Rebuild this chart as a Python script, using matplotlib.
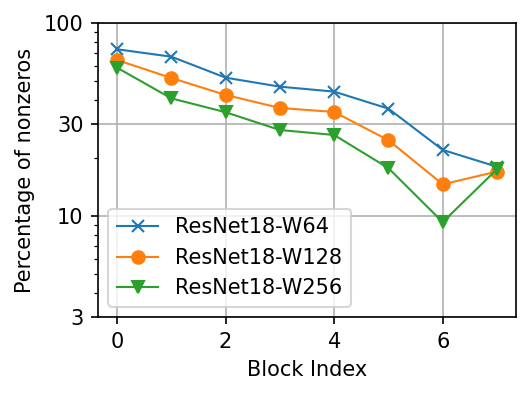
import matplotlib
matplotlib.use("Agg")
import matplotlib.pyplot as plt
from matplotlib.ticker import FixedLocator, FixedFormatter, LogLocator, NullFormatter

blocks = [0, 1, 2, 3, 4, 5, 6, 7]
w64 = [73.1, 66.9, 52.1, 46.8, 44.1, 36.0, 22.0, 18.0]
w128 = [64.3, 51.9, 42.4, 36.3, 34.6, 24.7, 14.6, 17.0]
w256 = [58.7, 40.7, 34.5, 27.9, 26.3, 17.7, 9.3, 17.5]
yticks = [3, 10, 30, 100]

fig = plt.figure(figsize=(531 / 150, 395 / 150), dpi=150)
ax = fig.add_axes([0.1846, 0.1975, 0.7872, 0.7443])

ax.plot(blocks, w64, marker="x", lw=1, label="ResNet18-W64")
ax.plot(blocks, w128, marker="o", lw=1, label="ResNet18-W128")
ax.plot(blocks, w256, marker="v", lw=1, label="ResNet18-W256")

ax.set_yscale("log")
ax.set_ylim(3, 100)
ax.yaxis.set_major_locator(FixedLocator(yticks))
ax.yaxis.set_major_formatter(FixedFormatter([str(t) for t in yticks]))
ax.yaxis.set_minor_locator(LogLocator(base=10, subs=range(2, 10)))
ax.yaxis.set_minor_formatter(NullFormatter())
ax.set_xticks([0, 2, 4, 6])
ax.grid(True, which="major")

ax.set_xlabel("Block Index")
ax.set_ylabel("Percentage of nonzeros")
ax.legend(loc="lower left")

fig.savefig("out.png")
